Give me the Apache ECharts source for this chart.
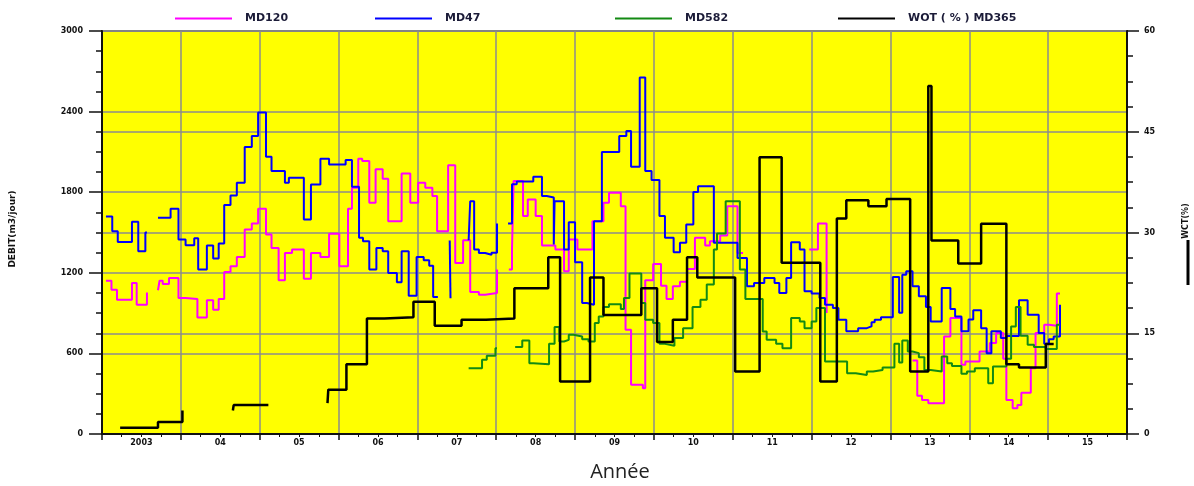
<!DOCTYPE html>
<html>
<head>
<meta charset="utf-8">
<script src="https://cdn.jsdelivr.net/npm/echarts@6/dist/echarts.min.js"></script>
<style>
  html, body { margin: 0; padding: 0; background: #ffffff; }
  #chart { width: 1194px; height: 486px; }
</style>
</head>
<body>
<div id="chart"></div>
<script>
// Year labels, one per band on the time axis
const yearLabels = ['2003', '04', '05', '06', '07', '08', '09', '10', '11', '12', '13', '14', '15'];

// Flow rates (m3/jour), step series as [decimal year, value]; each inner list is a continuous run
const md120 = [
  [[2003.05,1141],[2003.12,1074],[2003.19,1000],[2003.38,1124],[2003.44,962],[2003.57,1054]],
  [[2003.71,1070],[2003.73,1141],[2003.77,1117],[2003.85,1161],[2003.97,1012],[2004.06,1005],[2004.21,868],[2004.33,995],[2004.41,925],[2004.48,1005],[2004.55,1206],[2004.63,1248],[2004.71,1318],[2004.81,1522],[2004.90,1567],[2004.98,1676],[2005.08,1485],[2005.15,1385],[2005.24,1144],[2005.32,1348],[2005.41,1373],[2005.56,1156],[2005.65,1348],[2005.77,1318],[2005.88,1490],[2006.01,1248],[2006.12,1676],[2006.17,1833],[2006.25,2049],[2006.30,2032],[2006.39,1721],[2006.47,1970],[2006.56,1900],[2006.63,1584],[2006.80,1940],[2006.91,1721],[2007.01,1870],[2007.10,1833],[2007.19,1771],[2007.25,1510],[2007.39,2000],[2007.48,1273],[2007.58,1442],[2007.67,1057],[2007.78,1037],[2007.86,1049],[2008.01,1224]],
  [[2008.16,1224],[2008.20,1378],[2008.22,1883],[2008.34,1622],[2008.40,1746],[2008.50,1622],[2008.58,1403],[2008.75,1373],[2008.86,1211],[2008.92,1447],[2009.03,1373],[2009.22,1584],[2009.36,1721],[2009.43,1796],[2009.58,1696],[2009.64,776],[2009.71,366],[2009.86,341],[2009.89,1144],[2009.99,1266],[2010.09,1104],[2010.16,1005],[2010.24,1099],[2010.33,1134],[2010.42,1229],[2010.52,1460],[2010.65,1403],[2010.71,1435],[2010.84,1477],[2010.93,1696],[2011.06,1348],[2011.13,1348]],
  [[2011.97,1373],[2012.08,1567],[2012.19,900]],
  [[2013.28,547],[2013.34,284],[2013.40,254],[2013.48,229],[2013.68,726],[2013.76,863],[2013.90,515],[2013.95,540],[2014.13,614],[2014.26,677],[2014.34,751],[2014.43,560],[2014.47,254],[2014.55,191],[2014.61,216],[2014.66,308],[2014.78,490],[2014.84,751],[2014.95,813],[2015.01,806],[2015.11,1045],[2015.15,1045]]
];

const md47 = [
  [[2003.05,1620],[2003.13,1510],[2003.20,1430],[2003.38,1580],[2003.46,1360],[2003.55,1500],[2003.57,1500]],
  [[2003.71,1610],[2003.87,1676],[2003.97,1447],[2004.06,1405],[2004.17,1457],[2004.22,1224],[2004.33,1403],[2004.41,1306],[2004.48,1418],[2004.55,1704],[2004.63,1776],[2004.71,1870],[2004.81,2136],[2004.90,2218],[2004.98,2393],[2005.08,2064],[2005.15,1957],[2005.32,1870],[2005.37,1907],[2005.56,1597],[2005.65,1858],[2005.77,2049],[2005.88,2007],[2006.09,2040],[2006.17,1840],[2006.26,1460],[2006.31,1435],[2006.39,1224],[2006.48,1385],[2006.56,1360],[2006.63,1199],[2006.74,1129],[2006.80,1360],[2006.89,1030],[2006.99,1318],[2007.08,1293],[2007.15,1253],[2007.20,1020],[2007.26,1020]],
  [[2007.41,1440],[2007.42,1010]],
  [[2007.65,1442],[2007.67,1733],[2007.72,1373],[2007.78,1348],[2007.86,1335],[2007.94,1350],[2008.01,1567]],
  [[2008.15,1567],[2008.20,1860],[2008.26,1880],[2008.47,1915],[2008.58,1771],[2008.64,1760],[2008.73,1410],[2008.74,1733],[2008.86,1373],[2008.92,1577],[2009.00,1278],[2009.09,975],[2009.15,962],[2009.24,1584],[2009.34,2099],[2009.56,2218],[2009.65,2256],[2009.71,1990],[2009.82,2654],[2009.89,1957],[2009.97,1890],[2010.07,1622],[2010.14,1460],[2010.25,1353],[2010.33,1423],[2010.41,1559],[2010.50,1801],[2010.56,1845],[2010.76,1423],[2011.06,1311],[2011.18,1099],[2011.27,1124],[2011.40,1161],[2011.53,1124],[2011.59,1049],[2011.68,1161],[2011.74,1428],[2011.85,1373],[2011.91,1062],[2012.00,1045],[2012.10,1012],[2012.17,962],[2012.27,938],[2012.34,851],[2012.44,764],[2012.59,788],[2012.70,801],[2012.76,831],[2012.80,851],[2012.88,870],[2013.03,1169],[2013.11,903],[2013.15,1186],[2013.20,1211],[2013.28,1099],[2013.36,1025],[2013.45,945],[2013.51,838],[2013.65,1087],[2013.76,930],[2013.82,875],[2013.90,764],[2013.99,853],[2014.05,922],[2014.15,788],[2014.22,602],[2014.28,764],[2014.40,714],[2014.47,730],[2014.63,995],[2014.74,888],[2014.88,751],[2014.95,671],[2015.01,706],[2015.07,726],[2015.15,962]]
];

const md582 = [
  [[2007.65,490],[2007.82,552],[2007.88,582],[2007.99,639],[2008.01,639]],
  [[2008.24,647],[2008.33,696],[2008.42,527],[2008.47,520],[2008.67,671],[2008.74,796],[2008.80,689],[2008.86,701],[2008.92,739],[2008.98,726],[2009.09,706],[2009.17,689],[2009.25,826],[2009.30,875],[2009.36,945],[2009.43,965],[2009.58,930],[2009.62,1012],[2009.69,1194],[2009.84,975],[2009.89,851],[2009.99,826],[2010.07,671],[2010.14,657],[2010.26,714],[2010.37,788],[2010.49,945],[2010.59,1000],[2010.67,1112],[2010.76,1373],[2010.80,1492],[2010.91,1733],[2011.09,1224],[2011.16,1005],[2011.38,763],[2011.43,701],[2011.55,671],[2011.63,639],[2011.74,863],[2011.85,838],[2011.91,788],[2012.00,838],[2012.06,938],[2012.17,540],[2012.45,453],[2012.56,440],[2012.70,465],[2012.78,477],[2012.90,495],[2013.05,671],[2013.11,532],[2013.15,696],[2013.22,614],[2013.28,602],[2013.36,572],[2013.43,477],[2013.51,465],[2013.65,577],[2013.72,527],[2013.78,507],[2013.90,448],[2013.97,465],[2014.07,490],[2014.24,378],[2014.30,502],[2014.47,560],[2014.53,801],[2014.59,945],[2014.65,731],[2014.74,664],[2014.82,647],[2014.97,632],[2015.11,813],[2015.15,813]]
];

// Water cut (%) of MD365, read on the right axis
const wotMd365 = [
  [[2003.23,0.94],[2003.71,1.8],[2004.02,3.5]],
  [[2004.66,3.5],[2004.67,4.3],[2005.11,4.3]],
  [[2005.86,4.6],[2005.87,6.6],[2006.10,10.4],[2006.36,17.2],[2006.58,17.4],[2006.95,19.7],[2007.22,16.1],[2007.56,17.0],[2007.87,17.2],[2008.23,21.7],[2008.66,26.3],[2008.81,7.8],[2009.19,23.3],[2009.36,17.7],[2009.84,21.7],[2010.04,13.7],[2010.24,17.0],[2010.42,26.3],[2010.55,23.3],[2011.03,9.3],[2011.34,41.2],[2011.62,25.5],[2012.11,7.8],[2012.32,32.1],[2012.44,34.8],[2012.72,33.9],[2012.95,35.0],[2013.25,9.3],[2013.48,51.8],[2013.52,28.8],[2013.86,25.4],[2014.15,31.3],[2014.47,10.4],[2014.63,9.9],[2014.97,13.4],[2015.07,13.4]]
];

const seriesDefs = [
  { name: 'MD120', runs: md120, color: '#ff00ff', width: 2, yAxisIndex: 0 },
  { name: 'MD47', runs: md47, color: '#0000ff', width: 2, yAxisIndex: 0 },
  { name: 'MD582', runs: md582, color: '#138a13', width: 2, yAxisIndex: 0 },
  { name: 'WOT ( % ) MD365', runs: wotMd365, color: '#000000', width: 2.5, yAxisIndex: 1 }
];

const series = [];
seriesDefs.forEach(function (d) {
  d.runs.forEach(function (run) {
    series.push({
      name: d.name,
      type: 'line',
      step: 'end',
      xAxisIndex: 1,
      yAxisIndex: d.yAxisIndex,
      data: run,
      showSymbol: false,
      symbol: 'none',
      animation: false,
      itemStyle: { color: d.color },
      lineStyle: { color: d.color, width: d.width }
    });
  });
});

const legendStarts = [170, 370, 610, 833];
const legends = seriesDefs.map(function (d, i) {
  return {
    data: [d.name],
    left: legendStarts[i],
    top: 8,
    icon: 'rect',
    itemWidth: 57,
    itemHeight: 2,
    selectedMode: false,
    textStyle: {
      fontFamily: 'DejaVu Sans',
      fontWeight: 'bold',
      fontSize: 11,
      color: '#1b1b38',
      padding: [0, 0, 0, 8]
    }
  };
});

const tickLabelStyle = {
  fontFamily: 'DejaVu Sans',
  fontWeight: 'bold',
  fontSize: 8,
  color: '#111111'
};
const plainNumber = function (v) { return String(v); };
const gridLine = { show: true, lineStyle: { color: '#8c8c8c', width: 1.5 } };
const axisBlack = { show: true, lineStyle: { color: '#111111', width: 2 } };

const chart = echarts.init(document.getElementById('chart'), null, { renderer: 'canvas' });
chart.setOption({
  animation: false,
  backgroundColor: '#ffffff',
  legend: legends,
  grid: {
    left: 102, right: 67, top: 31, bottom: 52,
    show: true,
    backgroundColor: '#ffff00',
    borderColor: '#111111',
    borderWidth: 2
  },
  xAxis: [
    {
      type: 'category',
      data: yearLabels,
      boundaryGap: true,
      position: 'bottom',
      axisLine: axisBlack,
      axisTick: { show: true, interval: 0, length: 6, lineStyle: { color: '#111111', width: 1.5 } },
      splitLine: Object.assign({ interval: 0 }, gridLine),
      axisLabel: Object.assign({ interval: 0, margin: 5 }, tickLabelStyle)
    },
    {
      type: 'value',
      min: 2003,
      max: 2016,
      interval: 1,
      position: 'bottom',
      axisLine: { show: false },
      axisLabel: { show: false },
      axisTick: { show: false },
      splitLine: { show: false },
      minorTick: { show: true, splitNumber: 4, length: 3, lineStyle: { color: '#111111', width: 1 } }
    }
  ],
  yAxis: [
    {
      type: 'value',
      min: 0, max: 3000, interval: 600,
      position: 'left',
      axisLine: axisBlack,
      axisTick: { show: true, length: 13, lineStyle: { color: '#111111', width: 1.5 } },
      minorTick: { show: true, splitNumber: 4, length: 6, lineStyle: { color: '#111111', width: 1.5 } },
      splitLine: gridLine,
      axisLabel: Object.assign({ margin: 19, formatter: plainNumber }, tickLabelStyle)
    },
    {
      type: 'value',
      min: 0, max: 60, interval: 15,
      position: 'right',
      axisLine: axisBlack,
      axisTick: { show: true, length: 12, lineStyle: { color: '#111111', width: 1.5 } },
      minorTick: { show: true, splitNumber: 4, length: 6, lineStyle: { color: '#111111', width: 1.5 } },
      splitLine: gridLine,
      axisLabel: Object.assign({ margin: 17, formatter: plainNumber }, tickLabelStyle)
    }
  ],
  graphic: [
    {
      type: 'text', x: 13, y: 229, rotation: Math.PI / 2,
      style: { text: 'DEBIT(m3/jour)', font: 'bold 9px "DejaVu Sans"', fill: '#111111', align: 'center', verticalAlign: 'middle' }
    },
    {
      type: 'text', x: 1186, y: 221, rotation: Math.PI / 2,
      style: { text: 'WCT(%)', font: 'bold 8px "DejaVu Sans"', fill: '#111111', align: 'center', verticalAlign: 'middle' }
    },
    {
      type: 'line',
      shape: { x1: 1188, y1: 240, x2: 1188, y2: 285 },
      style: { stroke: '#000000', lineWidth: 3 }
    },
    {
      type: 'text', x: 620, y: 472,
      style: { text: 'Année', font: '20px "Open Sans"', fill: '#222222', align: 'center', verticalAlign: 'middle' }
    }
  ],
  series: series
});
</script>
</body>
</html>
